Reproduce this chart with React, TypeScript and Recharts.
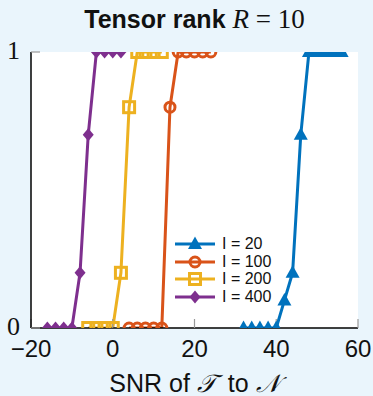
import { LineChart, Line, XAxis, YAxis, CartesianGrid } from 'recharts';

const snr20 = [32, 34, 36, 38, 40, 42, 44, 46, 48, 50, 52, 54, 56];
const rate20 = [0, 0, 0, 0, 0, 0.1, 0.2, 0.7, 1, 1, 1, 1, 1];
const snr100 = [4, 6, 8, 10, 12, 14, 16, 18, 20, 22, 24];
const rate100 = [0, 0, 0, 0, 0, 0.8, 1, 1, 1, 1, 1];
const snr200 = [-6, -4, -2, 0, 2, 4, 6, 8, 10, 12];
const rate200 = [0, 0, 0, 0, 0.2, 0.8, 1, 1, 1, 1];
const snr400 = [-16, -14, -12, -10, -8, -6, -4, -2, 0, 2];
const rate400 = [0, 0, 0, 0, 0.2, 0.7, 1, 1, 1, 1];
const xTicks = [-20, 0, 20, 40, 60];
const yTicks = [0, 1];

const BLUE = '#0072BD';
const ORANGE = '#D95319';
const YELLOW = '#EDB120';
const PURPLE = '#7E2F8E';
const SANS = "'Liberation Sans', Arial, sans-serif";
const SERIF = "'Liberation Serif', 'DejaVu Serif', serif";

const toRows = (xs: number[], ys: number[]) => xs.map((x, i) => ({ x, y: ys[i] }));

type MarkerKind = 'triangle' | 'circle' | 'square' | 'diamond';

function Marker({ kind, cx, cy, color }: { kind: MarkerKind; cx: number; cy: number; color: string }) {
  if (kind === 'triangle')
    return <polygon points={`${cx},${cy - 7.5} ${cx - 7},${cy + 5} ${cx + 7},${cy + 5}`} fill={color} />;
  if (kind === 'diamond')
    return <polygon points={`${cx},${cy - 6.5} ${cx + 5.5},${cy} ${cx},${cy + 6.5} ${cx - 5.5},${cy}`} fill={color} />;
  if (kind === 'circle')
    return <circle cx={cx} cy={cy} r={5} fill="none" stroke={color} strokeWidth={3} />;
  return <rect x={cx - 5.5} y={cy - 5.5} width={11} height={11} fill="none" stroke={color} strokeWidth={3} />;
}

const series: { name: string; data: { x: number; y: number }[]; color: string; kind: MarkerKind }[] = [
  { name: 'I = 20', data: toRows(snr20, rate20), color: BLUE, kind: 'triangle' },
  { name: 'I = 100', data: toRows(snr100, rate100), color: ORANGE, kind: 'circle' },
  { name: 'I = 200', data: toRows(snr200, rate200), color: YELLOW, kind: 'square' },
  { name: 'I = 400', data: toRows(snr400, rate400), color: PURPLE, kind: 'diamond' },
];

function LegendBox() {
  return (
    <div style={{ position: 'absolute', left: 173, top: 235, fontFamily: SANS, fontSize: 16, color: '#111' }}>
      {series.map((s) => (
        <div key={s.name} style={{ display: 'flex', alignItems: 'center', height: 17.7 }}>
          <svg width={44} height={16} style={{ display: 'block' }}>
            <line x1={2} y1={8} x2={42} y2={8} stroke={s.color} strokeWidth={3} />
            <Marker kind={s.kind} cx={22} cy={8} color={s.color} />
          </svg>
          <span style={{ marginLeft: 5 }}>{s.name}</span>
        </div>
      ))}
    </div>
  );
}

const fmt = (v: number) => String(v).replace('-', '\u2212');

export default function App() {
  return (
    <div style={{ position: 'absolute', left: 0, top: 0, width: 373, height: 396, background: '#eaf5fc' }}>
      <div
        style={{
          position: 'absolute', left: 31, width: 327, top: 7, textAlign: 'center',
          fontFamily: SANS, fontSize: 25, lineHeight: '25px', color: '#111', whiteSpace: 'nowrap',
        }}
      >
        <b>Tensor rank</b>{' '}
        <span style={{ fontFamily: SERIF, fontStyle: 'italic', fontSize: 27 }}>R</span>
        <span style={{ fontFamily: SERIF, fontSize: 27 }}> = 10</span>
      </div>
      <LineChart width={373} height={396} margin={{ top: 52, right: 15, bottom: 38, left: 1 }}>
        <CartesianGrid fill="#ffffff" horizontal={false} vertical={false} />
        <XAxis
          type="number"
          dataKey="x"
          domain={[-20, 60]}
          ticks={xTicks}
          tickFormatter={fmt}
          height={30}
          allowDataOverflow
          axisLine={{ stroke: '#000', strokeWidth: 1.5 }}
          tickLine={{ stroke: '#999', strokeWidth: 1.2 }}
          tickSize={-9}
          tickMargin={16}
          tick={{ fontFamily: SANS, fontSize: 24, fill: '#111', dy: 5 }}
          interval={0}
        />
        <YAxis
          type="number"
          domain={[0, 1]}
          ticks={yTicks}
          width={30}
          allowDataOverflow
          axisLine={{ stroke: '#000', strokeWidth: 1.5 }}
          tickLine={{ stroke: '#999', strokeWidth: 1.2 }}
          tickSize={-9}
          tickMargin={20}
          tick={{ fontFamily: SERIF, fontSize: 26, fill: '#111', dy: -2 }}
          interval={0}
        />
        {series.map((s) => (
          <Line
            key={s.name}
            data={s.data}
            dataKey="y"
            name={s.name}
            stroke={s.color}
            strokeWidth={3}
            isAnimationActive={false}
            dot={(p: any) => <Marker key={`${s.name}-${p.index}`} kind={s.kind} cx={p.cx} cy={p.cy} color={s.color} />}
            activeDot={false}
          />
        ))}
      </LineChart>
      <LegendBox />
      <div
        style={{
          position: 'absolute', left: 31, width: 327, top: 371, textAlign: 'center',
          fontFamily: SANS, fontSize: 25, lineHeight: '25px', color: '#111', whiteSpace: 'nowrap',
        }}
      >
        SNR of{' '}
        <span style={{ display: 'inline-block', fontFamily: SERIF, fontStyle: 'italic', marginRight: 12 }}>𝒯</span>
        to{' '}
        <span style={{ fontFamily: SERIF, fontStyle: 'italic' }}>𝒩</span>
      </div>
    </div>
  );
}
